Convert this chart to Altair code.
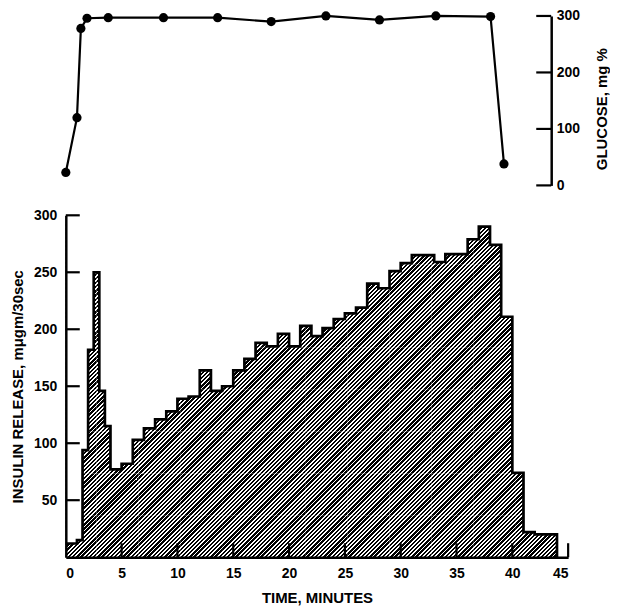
import math
import altair as alt
import pandas as pd

# ---------------- data ----------------
# Insulin release, mμgm/30sec, as step intervals (minutes)
interval_start = [0, 1, 1.5, 2, 2.5, 3, 3.5, 4, 5, 6, 7, 8, 9, 10, 11, 12, 13, 14,
                  15, 16, 17, 18, 19, 20, 21, 22, 23, 24, 25, 26, 27, 28, 29, 30,
                  31, 32, 33, 34, 35, 36, 37, 38, 39, 40, 41, 42]
interval_last_end = 44
insulin = [12, 15, 94, 182, 250, 146, 115, 77, 82, 103, 113, 121, 128, 139, 141,
           164, 146, 150, 164, 174, 188, 185, 196, 185, 203, 194, 201, 209, 214,
           219, 240, 236, 251, 258, 265, 265, 259, 266, 266, 279, 290, 274, 211,
           74, 22, 20]

# Glucose, mg %
glucose_time = [0, 1.0, 1.35, 1.9, 3.8, 8.75, 13.6, 18.4, 23.3, 28.1, 33.15, 38.05, 39.25]
glucose = [23, 120, 278, 296, 297, 297, 297, 290, 300, 293, 300, 299, 38]

# axis tick values
time_ticks = [0, 5, 10, 15, 20, 25, 30, 35, 40, 45]
insulin_ticks = [50, 100, 150, 200, 250, 300]
glucose_ticks = [0, 100, 200, 300]

# ---------------- layout / style ----------------
FONT = "Liberation Sans"
W_BOT, H_BOT = 504, 343
PX_PER_MIN = W_BOT / 45
PX_PER_UNIT = H_BOT / 300
W_TOP, H_TOP = 487, 170
TICK = 14
Y_TOP = 300  # top of the insulin axis

# hatch texture: square tiles whose size is a multiple of the stripe period,
# each filled with the same striped gradient, so the stripes run continuously
PERIOD = 4.2
TILE = PERIOD * 10
n_str = int(round(2 * TILE / PERIOD))
stops = []
for i in range(n_str):
    a, b, c = i / n_str, (i + 0.57) / n_str, (i + 1) / n_str
    stops += [{"offset": a, "color": "black"}, {"offset": b, "color": "black"},
              {"offset": b, "color": "white"}, {"offset": c, "color": "white"}]
hatch = {"gradient": "linear", "x1": 0, "y1": 0, "x2": 1, "y2": 1, "stops": stops}

# tile grid: right edge ends at the last interval, top stays below the axis top
right_px = interval_last_end * PX_PER_MIN
nx = int(math.ceil(right_px / TILE))
x0_px = right_px - nx * TILE
ny = int(math.ceil(max(insulin) * PX_PER_UNIT / TILE))
tiles = []
for ix in range(nx):
    for iy in range(ny):
        tiles.append({
            "time": (x0_px + ix * TILE) / PX_PER_MIN,
            "time2": (x0_px + (ix + 1) * TILE) / PX_PER_MIN,
            "insulin": iy * TILE / PX_PER_UNIT,
            "insulin2": (iy + 1) * TILE / PX_PER_UNIT,
        })
tile_df = pd.DataFrame(tiles)

x_axis = alt.Axis(values=time_ticks, title="TIME, MINUTES", ticks=False, tickSize=0,
                  labelPadding=9, titlePadding=10, domainWidth=2.5, grid=False,
                  labelAngle=0, format="d", zindex=2)
y_axis = alt.Axis(values=insulin_ticks, title="INSULIN RELEASE, mμgm/30sec",
                  ticks=False, tickSize=0, labelPadding=9, titlePadding=8,
                  domainWidth=2.5, grid=False, zindex=2)
x_scale = alt.Scale(domain=[0, 45], nice=False, zero=False)
y_scale = alt.Scale(domain=[0, Y_TOP], nice=False)

def X(field="time"):
    return alt.X(f"{field}:Q", scale=x_scale, axis=x_axis)

def Y(field="insulin"):
    return alt.Y(f"{field}:Q", scale=y_scale, axis=y_axis)

# ---------------- bottom panel ----------------
tile_layer = alt.Chart(tile_df).mark_rect(fill=hatch, clip=True, strokeWidth=0).encode(
    x=X(), x2="time2", y=Y(), y2="insulin2")

# white cover above the step outline (leaves the hatch only under the curve)
mask_df = pd.DataFrame({"time": interval_start + [interval_last_end, 45],
                        "insulin": insulin + [0, 0]})
mask_df["ceiling"] = Y_TOP
mask = alt.Chart(mask_df).mark_area(
    interpolate="step-after", color="white", opacity=1, clip=True
).encode(x=X(), y=Y(), y2="ceiling")

outline_df = pd.DataFrame({"time": interval_start + [interval_last_end],
                           "insulin": insulin + [0]})
outline = alt.Chart(outline_df).mark_line(
    interpolate="step-after", color="black", strokeWidth=2.7, strokeJoin="miter"
).encode(x=X(), y=Y())

xt = alt.Chart(pd.DataFrame({"time": time_ticks[1:]})).mark_rule(
    color="black", strokeWidth=2.2
).encode(x=X(), y=alt.value(H_BOT), y2=alt.value(H_BOT - TICK))

yt = alt.Chart(pd.DataFrame({"insulin": insulin_ticks})).mark_rule(
    color="black", strokeWidth=2.2
).encode(y=Y(), x=alt.value(0), x2=alt.value(TICK))

bottom = alt.layer(tile_layer, mask, outline, xt, yt).properties(width=W_BOT, height=H_BOT)

# ---------------- top panel ----------------
g_axis = alt.Axis(orient="right", values=glucose_ticks, title="GLUCOSE, mg %",
                  ticks=False, tickSize=0, labelPadding=5, titleAngle=270,
                  titlePadding=30, titleY=93, domainWidth=2.5, grid=False)
gx = alt.X("time:Q", scale=alt.Scale(domain=[0, W_TOP / PX_PER_MIN], nice=False, zero=False),
           axis=None)
gy = alt.Y("glucose:Q", scale=alt.Scale(domain=[0, 300], nice=False), axis=g_axis)

gdf = pd.DataFrame({"time": glucose_time, "glucose": glucose})
base = alt.Chart(gdf).encode(x=gx, y=gy)
line = base.mark_line(color="black", strokeWidth=2.2)
pts = base.mark_circle(size=85, color="black", opacity=1)
gt = alt.Chart(pd.DataFrame({"glucose": glucose_ticks})).mark_rule(
    color="black", strokeWidth=2.2
).encode(y=gy, x=alt.value(W_TOP - 15), x2=alt.value(W_TOP))

top = alt.layer(line, pts, gt).properties(width=W_TOP, height=H_TOP)

chart = alt.vconcat(top, bottom, spacing=30, bounds="flush").properties(
    padding={"left": 2, "top": 0, "right": 0, "bottom": 0}
).configure_view(stroke=None).configure_axis(
    labelFont=FONT, labelFontWeight="bold", labelFontSize=14, labelColor="black",
    titleFont=FONT, titleFontWeight="bold", titleFontSize=15, titleColor="black",
    domainColor="black"
)

chart.save("out.html", embed_options={"renderer": "svg", "actions": False})
